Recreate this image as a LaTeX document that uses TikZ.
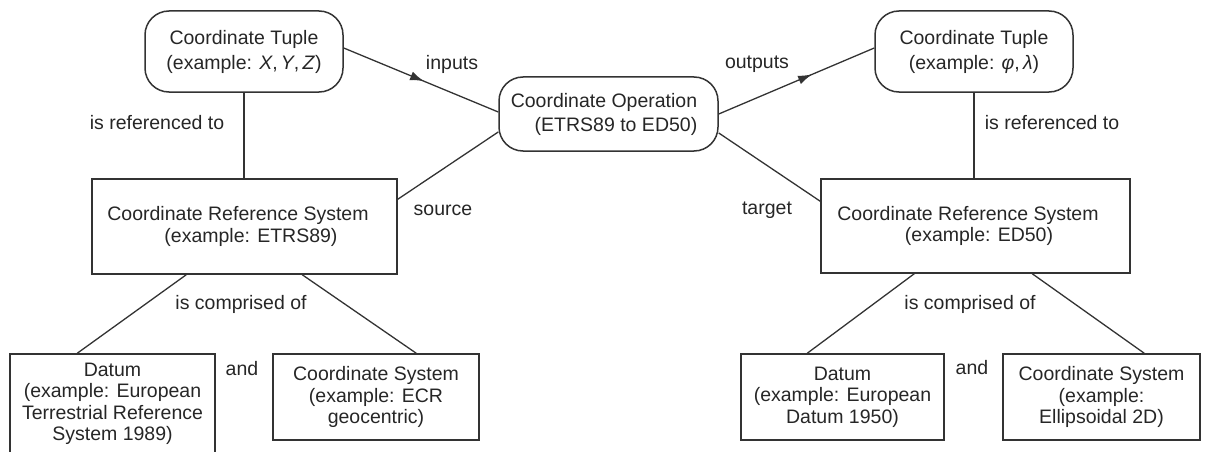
\documentclass[tikz,border=0pt]{standalone}
\usepackage{fontspec}
\setmainfont{Liberation Sans}
\usetikzlibrary{calc,arrows.meta,decorations.markings}
\begin{document}
\begin{tikzpicture}[x=1pt,y=-1pt,
  every node/.style={font=\fontsize{19.5}{21.5}\selectfont, text=black!85},
  box/.style={draw=black!80, line width=1.5pt, align=center, inner sep=0pt},
  rbox/.style={box, rounded corners=24pt},
  conn/.style={draw=black!80, line width=1.3pt},
  midarrow/.style={postaction={decorate}, decoration={markings, mark=at position #1 with {\arrow{Latex[length=14pt,width=9pt]}}}},
  lbl/.style={inner sep=0pt}]
\useasboundingbox (0,0) rectangle (1205,452);

% top boxes
\node[rbox, minimum width=198pt, minimum height=81pt] (tupL) at (244,51.5)
  {Coordinate Tuple\\[3.5pt](example: \textit{X},\,\textit{Y},\,\textit{Z})};
\node[rbox, minimum width=198pt, minimum height=81pt] (tupR) at (974,51.5)
  {Coordinate Tuple\\[3.5pt](example: \textit{φ},\,\textit{λ})};
\node[rbox, minimum width=219pt, minimum height=74pt] (cop) at (608.5,114)
  {Coordinate Operation\hspace*{9pt}\\[2.5pt]\hspace*{15pt}(ETRS89 to ED50)};

% CRS boxes
\node[box, minimum width=305pt, minimum height=95pt] (crsL) at (244.5,226.5)
  {Coordinate Reference System\hspace*{13pt}\\\hspace*{13pt}(example: ETRS89)};
\node[box, minimum width=309pt, minimum height=94pt] (crsR) at (975.5,226)
  {Coordinate Reference System\hspace*{15pt}\\\hspace*{7pt}(example: ED50)};

% lower boxes
\node[box, minimum width=205pt, minimum height=100pt] (datL) at (112.5,404)
  {Datum\\(example: European\\Terrestrial Reference\\System 1989)};
\node[box, minimum width=206pt, minimum height=86pt] (csL) at (376,397)
  {Coordinate System\\(example: ECR\\geocentric)};
\node[box, minimum width=203pt, minimum height=86pt] (datR) at (842.5,397)
  {Datum\\(example: European\\Datum 1950)};
\node[box, minimum width=197pt, minimum height=86pt] (csR) at (1101.5,397)
  {Coordinate System\\(example:\\Ellipsoidal 2D)};

% connectors
\draw[conn] (tupL.south) -- (tupL.south |- crsL.north);
\draw[conn] (tupR.south) -- (tupR.south |- crsR.north);
\draw[conn, midarrow=0.52] ($(tupL.east)+(0,-3.5)$) -- ($(cop.west)+(0,-2)$);
\draw[conn, midarrow=0.6] (cop.east) -- ($(tupR.west)+(0,-3.5)$);
\draw[conn] ($(cop.west)+(0,18)$) -- ($(crsL.north east)+(0,21)$);
\draw[conn] ($(cop.east)+(0,19)$) -- ($(crsR.north west)+(0,23)$);
\draw[conn] ($(crsL.south west)+(95,0)$) -- ($(datL.north west)+(68,0)$);
\draw[conn] ($(crsL.south west)+(211,0)$) -- ($(csL.north west)+(144,0)$);
\draw[conn] ($(crsR.south west)+(94,0)$) -- ($(datR.north west)+(67,0)$);
\draw[conn] ($(crsR.south west)+(212,0)$) -- ($(csR.north west)+(142,0)$);

% labels
\node[lbl] (refL) at (157,123) {is referenced to};
\node[lbl] (refR) at (1052,123) {is referenced to};
\node[lbl] (inp) at (452,64) {inputs};
\node[lbl] (outp) at (757,64) {outputs};
\node[lbl] (src) at (443,210) {source};
\node[lbl] (tgt) at (767,210) {target};
\node[lbl] (compL) at (241,304) {is comprised of};
\node[lbl] (compR) at (970,304) {is comprised of};
\node[lbl] (andL) at (242,369) {and};
\node[lbl] (andR) at (972,368) {and};
\end{tikzpicture}
\end{document}
